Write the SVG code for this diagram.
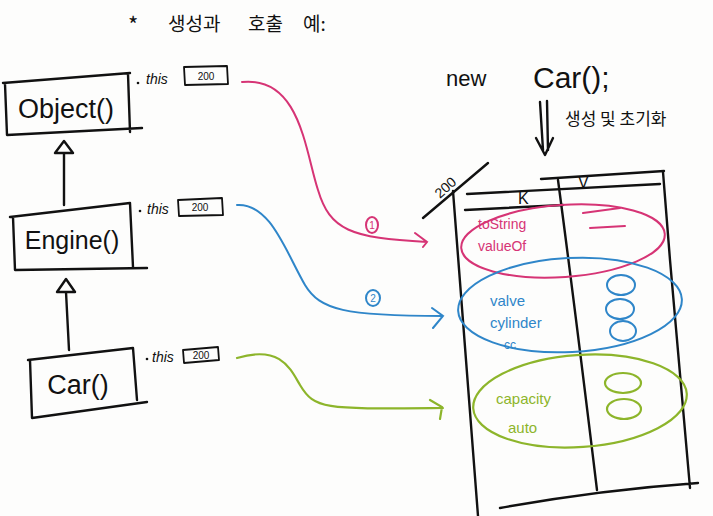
<svg xmlns="http://www.w3.org/2000/svg" width="713" height="516" viewBox="0 0 713 516">
<style>
.ink{fill:none;stroke:#111;stroke-width:2.4;stroke-linecap:round;stroke-linejoin:round}
.thin{fill:none;stroke:#111;stroke-width:1.8;stroke-linecap:round;stroke-linejoin:round}
.t{font-family:"Liberation Sans","Noto Sans CJK KR",sans-serif;fill:#111}
.kr{font-family:"Noto Sans CJK KR","Liberation Sans",sans-serif;fill:#111}
.pink{stroke:#d63475;fill:none;stroke-width:2;stroke-linecap:round}
.blue{stroke:#2f86c9;fill:none;stroke-width:2;stroke-linecap:round}
.green{stroke:#8db52b;fill:none;stroke-width:2.2;stroke-linecap:round}
.pt{fill:#d63475;font-family:"Liberation Sans",sans-serif}
.bt{fill:#2f86c9;font-family:"Liberation Sans",sans-serif}
.gt{fill:#8db52b;font-family:"Liberation Sans",sans-serif}
</style>
<rect width="713" height="516" fill="#fdfdfc"/>

<g id="title">
<text class="kr" x="128" y="33" font-size="22">*</text>
<text class="kr" x="168" y="31" font-size="19">생성과</text>
<text class="kr" x="248" y="31" font-size="19">호출</text>
<text class="kr" x="303" y="31" font-size="19">예:</text>
</g>

<g id="object">
<path class="ink" d="M3,83 L130,73 M5,84 L7,135 L142,128 M128,74 L130,132"/>
<text class="t" x="66" y="118" font-size="27" text-anchor="middle">Object()</text>
<circle cx="138" cy="83" r="1.3" fill="#111"/>
<text class="t" x="146" y="84" font-size="14" font-style="italic">this</text>
<path class="thin" d="M184,67 L227,66 L228,84 L185,85 Z"/>
<text class="t" x="206" y="80" font-size="10" text-anchor="middle">200</text>
</g>

<g id="engine">
<path class="ink" d="M10,217 L130,203 M13,217 L15,270 L147,268 M130,203 L133,267"/>
<text class="t" x="72" y="249" font-size="25" text-anchor="middle">Engine()</text>
<circle cx="140" cy="211" r="1.3" fill="#111"/>
<text class="t" x="147" y="214" font-size="14" font-style="italic">this</text>
<path class="thin" d="M178,200 L222,198 L223,215 L179,216 Z"/>
<text class="t" x="200" y="211" font-size="10" text-anchor="middle">200</text>
</g>

<g id="car">
<path class="ink" d="M28,360 L133,348 M30,360 L32,418 L147,402 M133,348 L137,400"/>
<text class="t" x="78" y="394" font-size="27" text-anchor="middle">Car()</text>
<circle cx="147" cy="359" r="1.3" fill="#111"/>
<text class="t" x="152" y="362" font-size="14" font-style="italic">this</text>
<path class="thin" d="M183,350 L218,347 L219,360 L184,363 Z"/>
<text class="t" x="201" y="359" font-size="10" text-anchor="middle">200</text>
</g>

<g id="new-car">
<text class="t" x="446" y="86" font-size="22">new</text>
<text class="t" x="533" y="88" font-size="30">Car();</text>
<path class="ink" d="M540,102 L543,150 M547,101 L548,150 M536,138 L545,155 L553,138"/>
<text class="kr" x="565" y="125" font-size="17">생성 및 초기화</text>
</g>

<g id="memory-table">
<path class="ink" d="M423,218 L488,163"/>
<text class="t" x="0" y="0" font-size="14" transform="translate(440,199) rotate(-42)">200</text>
<path class="ink" d="M541,179 L664,171 M467,194 L660,184 M465,210 L563,205"/>
<path class="ink" d="M453,191 L478,516 M558,180 Q574,300 597,490 M663,172 L670,260 L690,488 M500,508 Q600,490 698,483"/>
<text class="t" x="518" y="204" font-size="16">K</text>
<text class="t" x="578" y="188" font-size="16">V</text>
</g>

<g id="object-fields">
<ellipse class="pink" cx="563" cy="241" rx="102" ry="36" transform="rotate(-4 563 241)"/>
<text class="pt" x="478" y="229" font-size="14">toString</text>
<text class="pt" x="478" y="251" font-size="14">valueOf</text>
<path class="pink" d="M583,213 L620,208 M590,228 L625,226"/>
</g>

<g id="engine-fields">
<ellipse class="blue" cx="570" cy="305" rx="112" ry="47" transform="rotate(-3 570 305)"/>
<text class="bt" x="490" y="306" font-size="15">valve</text>
<text class="bt" x="490" y="328" font-size="15">cylinder</text>
<text class="bt" x="504" y="349" font-size="12">cc</text>
<ellipse class="blue" cx="621" cy="285" rx="14" ry="10"/>
<ellipse class="blue" cx="620" cy="309" rx="14" ry="10"/>
<ellipse class="blue" cx="623" cy="331" rx="13" ry="10"/>
</g>

<g id="car-fields">
<ellipse class="green" cx="580" cy="401" rx="107" ry="46" transform="rotate(-4 580 401)"/>
<text class="gt" x="496" y="404" font-size="15">capacity</text>
<text class="gt" x="508" y="433" font-size="15">auto</text>
<ellipse class="green" cx="623" cy="383" rx="18" ry="10"/>
<ellipse class="green" cx="624" cy="409" rx="17" ry="10"/>
</g>

<g id="connectors">
<path class="ink" d="M64,141 L55,153 L73,153 Z M64,153 L64,205"/>
<path class="ink" d="M66,279 L57,292 L75,292 Z M66,292 L69,350"/>
<path class="pink" d="M242,82 C300,76 305,150 318,190 C330,230 350,238 427,242 M415,233 L427,242 L423,247"/>
<ellipse class="pink" cx="372" cy="225" rx="6" ry="8"/>
<text class="pt" x="372" y="229" font-size="10" text-anchor="middle">1</text>
<path class="blue" d="M237,205 C270,203 285,250 305,285 C320,310 345,316 443,316 M432,308 L443,316 L433,328"/>
<ellipse class="blue" cx="373" cy="298" rx="7" ry="8"/>
<text class="bt" x="373" y="302" font-size="10" text-anchor="middle">2</text>
<path class="green" d="M237,358 C280,345 290,368 300,385 C315,410 325,409 443,408 M430,400 L442,407 L440,419"/>
</g>
</svg>
